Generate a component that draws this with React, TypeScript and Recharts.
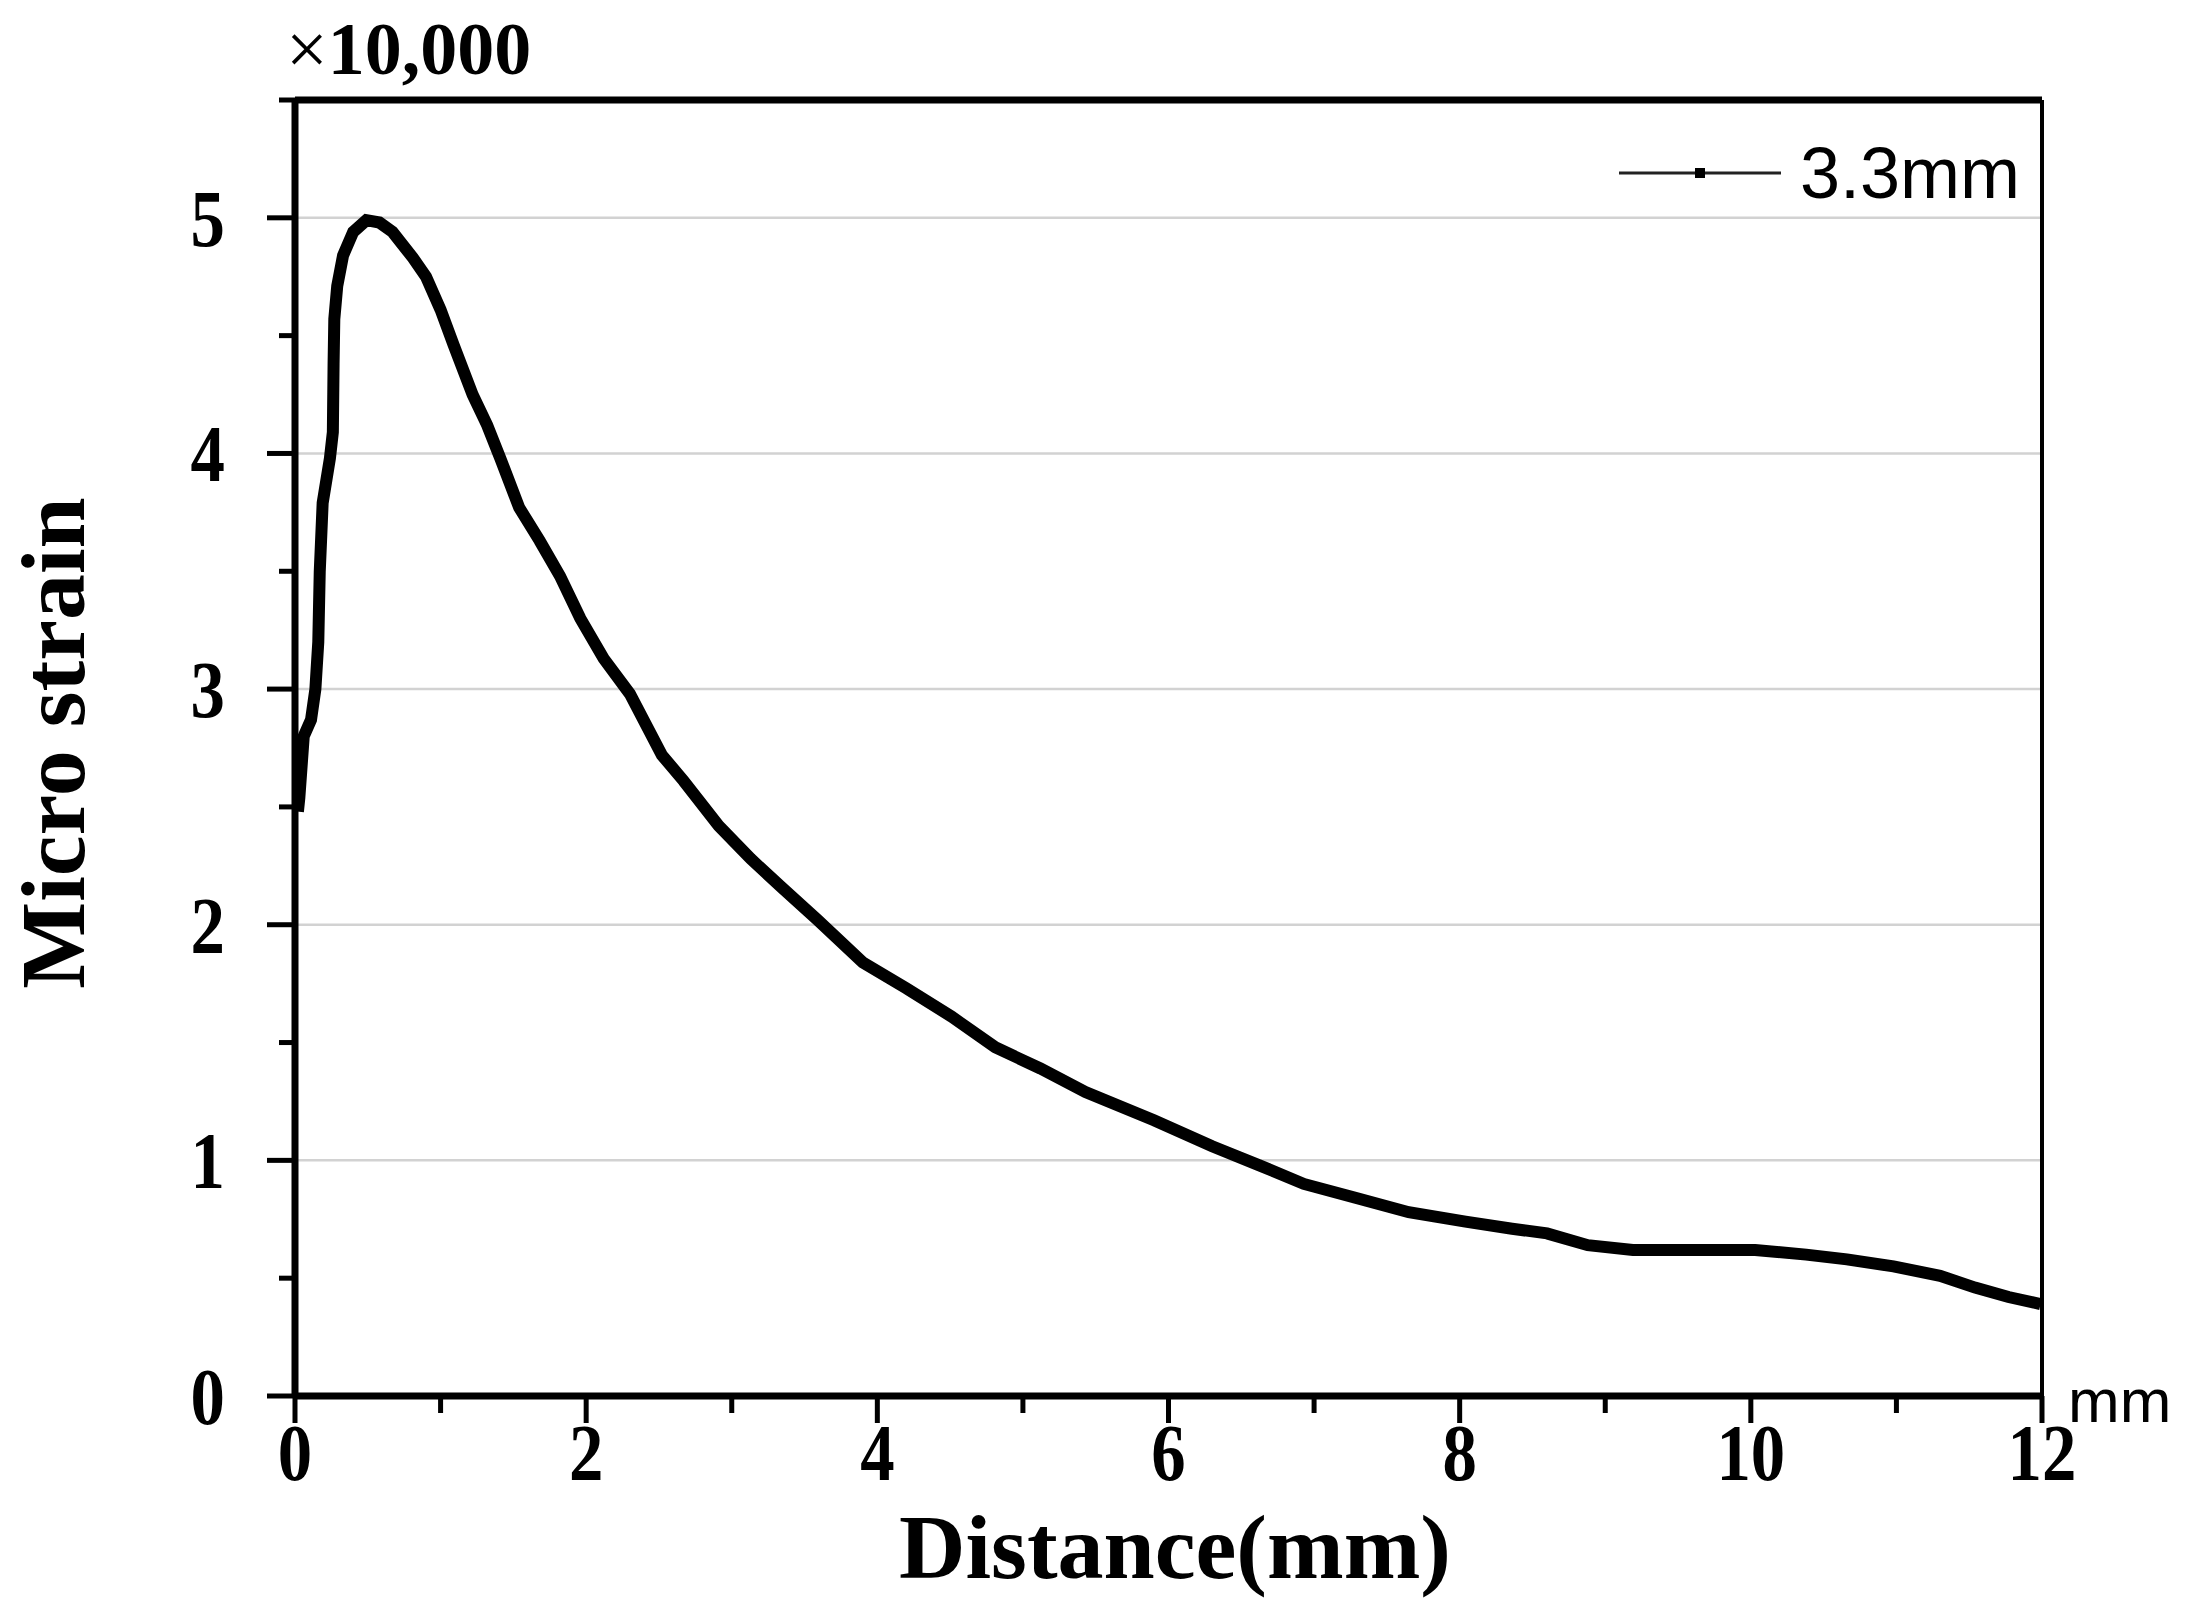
import { Legend, Line, LineChart, ReferenceLine, XAxis, YAxis } from "recharts";

// distance along the specimen (mm)
const distance = [
  0.02, 0.03, 0.06, 0.11, 0.14, 0.16, 0.17, 0.19, 0.24, 0.26, 0.265, 0.27, 0.29, 0.33, 0.4, 0.49,
  0.58, 0.67, 0.81, 0.9, 1.0, 1.09, 1.22, 1.32, 1.41, 1.54, 1.68, 1.82, 1.96, 2.12, 2.3, 2.52,
  2.67, 2.91, 3.13, 3.34, 3.59, 3.9, 4.2, 4.51, 4.81, 5.12, 5.43, 5.9, 6.3, 6.62, 6.93, 7.29,
  7.65, 8.04, 8.36, 8.6, 8.88, 9.19, 9.67, 10.03, 10.38, 10.66, 10.98, 11.3, 11.54, 11.77, 11.99,
];

// micro strain, x10,000
const strain = [
  2.48, 2.54, 2.8, 2.87, 3.0, 3.2, 3.5, 3.79, 3.98, 4.09, 4.38, 4.57, 4.71, 4.84, 4.94, 4.99,
  4.98, 4.94, 4.83, 4.75, 4.61, 4.46, 4.25, 4.12, 3.98, 3.77, 3.63, 3.48, 3.3, 3.13, 2.98, 2.72,
  2.61, 2.42, 2.28, 2.16, 2.02, 1.84, 1.73, 1.61, 1.48, 1.39, 1.29, 1.17, 1.06, 0.98, 0.9, 0.84,
  0.78, 0.74, 0.71, 0.69, 0.64, 0.62, 0.62, 0.62, 0.6, 0.58, 0.55, 0.51, 0.46, 0.42, 0.39,
];

const xTicks = [0, 1, 2, 3, 4, 5, 6, 7, 8, 9, 10, 11, 12];
const yTicks = [0, 0.5, 1, 1.5, 2, 2.5, 3, 3.5, 4, 4.5, 5, 5.5];
const gridValues = [1, 2, 3, 4, 5];
const seriesName = "3.3mm";

const data = distance.map((d, i) => ({ d, v: strain[i] }));

const serif = "'Liberation Serif', 'Times New Roman', serif";
const sans = "'Liberation Sans', Arial, sans-serif";

// the figure's serif digits are a bit narrow
const squeeze = 0.86;

function XTick(props: any) {
  const { x, y, payload } = props;
  const major = payload.value % 2 === 0;
  return (
    <g>
      <line x1={x} x2={x} y1={y} y2={y + (major ? 27 : 17)} stroke="#000" strokeWidth={5} />
      {major && (
        <text
          transform={`translate(${x},${y + 84}) scale(${squeeze},1)`}
          textAnchor="middle"
          fontFamily={serif}
          fontWeight="bold"
          fontSize={80}
          fill="#000"
        >
          {payload.value}
        </text>
      )}
    </g>
  );
}

function YTick(props: any) {
  const { x, y, payload } = props;
  const major = Number.isInteger(payload.value) && payload.value <= 5;
  return (
    <g>
      <line x1={x - (Number.isInteger(payload.value) ? 28 : 16)} x2={x} y1={y} y2={y} stroke="#000" strokeWidth={5} />
      {major && (
        <text
          transform={`translate(${x - 70},${y}) scale(${squeeze},1)`}
          dy="0.35em"
          textAnchor="end"
          fontFamily={serif}
          fontWeight="bold"
          fontSize={80}
          fill="#000"
        >
          {payload.value}
        </text>
      )}
    </g>
  );
}

function LegendBox({ payload }: any) {
  const label = payload && payload[0] ? payload[0].value : seriesName;
  return (
    <svg width={460} height={100} style={{ overflow: "visible" }}>
      <line x1={19} x2={181} y1={43} y2={43} stroke="#222" strokeWidth={3} />
      <rect x={95} y={38} width={10} height={10} fill="#000" />
      <text x={200} y={68} fontFamily={sans} fontSize={72} fill="#000">
        {label}
      </text>
    </svg>
  );
}

export default function App() {
  return (
    <div style={{ position: "absolute", left: 0, top: 0, width: 2189, height: 1599, background: "#fff" }}>
      <LineChart width={2189} height={1599} data={data} margin={{ top: 100, right: 147, bottom: 202, left: 294 }}>
        {gridValues.map((g) => (
          <ReferenceLine key={g} y={g} stroke="#d2d2d2" strokeWidth={2.5} />
        ))}
        <XAxis
          dataKey="d"
          type="number"
          domain={[0, 12]}
          ticks={xTicks}
          interval={0}
          height={1}
          tickSize={0}
          tickMargin={0}
          tickLine={false}
          tick={<XTick />}
          axisLine={{ stroke: "#000", strokeWidth: 7 }}
        />
        <YAxis
          type="number"
          domain={[0, 5.5]}
          ticks={yTicks}
          interval={0}
          width={1}
          tickSize={0}
          tickMargin={0}
          tickLine={false}
          tick={<YTick />}
          axisLine={{ stroke: "#000", strokeWidth: 7 }}
        />
        <ReferenceLine y={5.5} stroke="#000" strokeWidth={7} />
        <ReferenceLine x={12} stroke="#000" strokeWidth={4} />
        <Line
          type="linear"
          dataKey="v"
          name={seriesName}
          stroke="#000"
          strokeWidth={12}
          dot={false}
          isAnimationActive={false}
        />
        <Legend
          layout="horizontal"
          align="center"
          verticalAlign="middle"
          content={<LegendBox />}
          wrapperStyle={{ left: 1600, top: 130, width: 460, height: 100 }}
        />
      </LineChart>
      <svg
        width={2189}
        height={1599}
        style={{ position: "absolute", left: 0, top: 0, pointerEvents: "none" }}
      >
        <text x={286} y={74} fontFamily={serif} fontSize={74} fill="#000">
          <tspan fontWeight="normal">×</tspan>
          <tspan fontWeight="bold">10,000</tspan>
        </text>
        <text x={2068} y={1422} fontFamily={sans} fontSize={62} fill="#000">
          mm
        </text>
        <text x={1175} y={1578} textAnchor="middle" fontFamily={serif} fontWeight="bold" fontSize={92} fill="#000">
          Distance(mm)
        </text>
        <text
          x={84}
          y={743}
          transform="rotate(-90 84 743)"
          textAnchor="middle"
          fontFamily={serif}
          fontWeight="bold"
          fontSize={92}
          fill="#000"
        >
          Micro strain
        </text>
      </svg>
    </div>
  );
}
